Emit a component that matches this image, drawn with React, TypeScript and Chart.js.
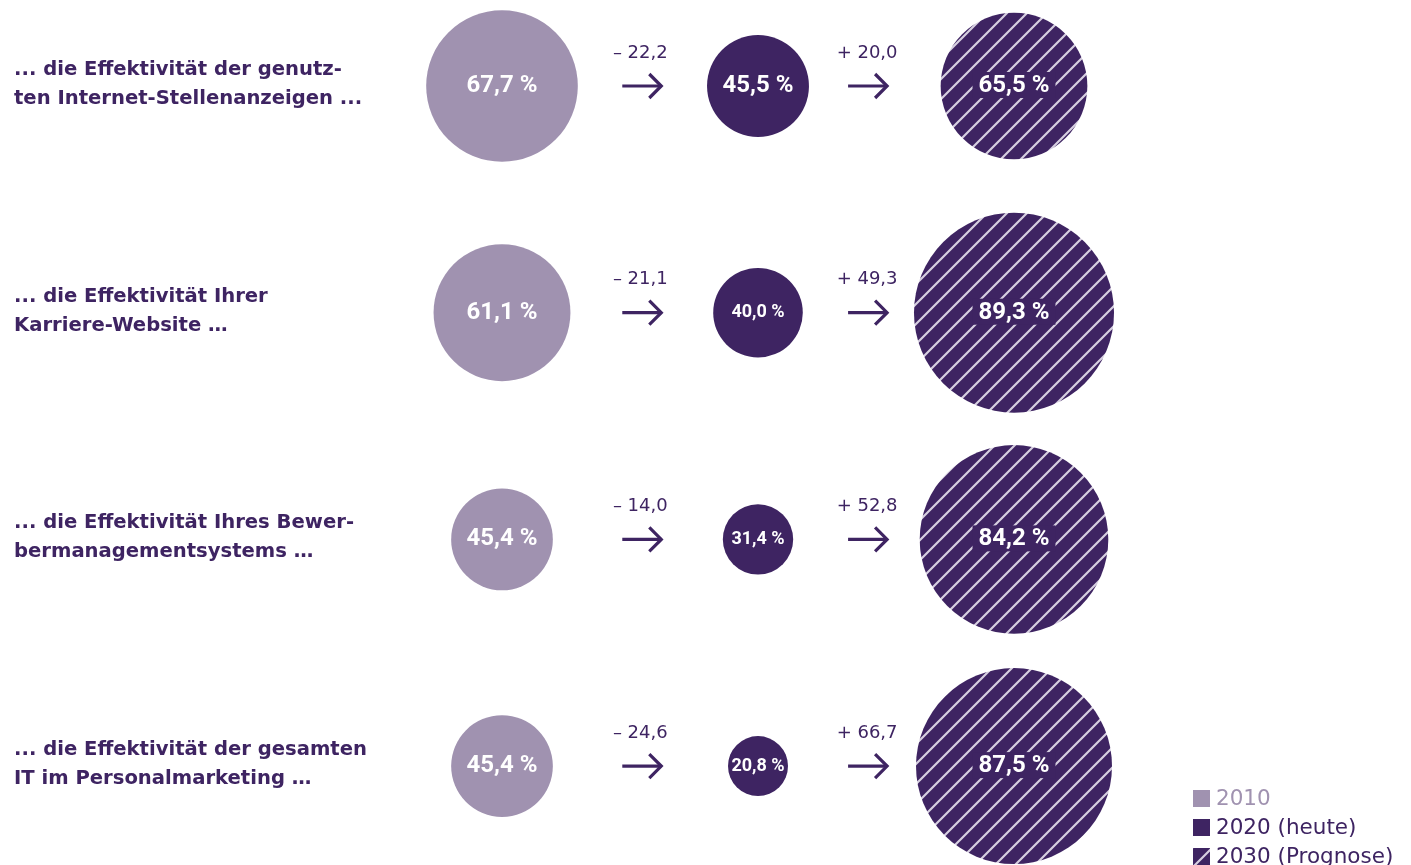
import React, { useEffect, useRef } from "react";
import { Chart, registerables } from "chart.js";

Chart.register(...registerables);

const categories: string[][] = [
  ["... die Effektivität der genutz-", "ten Internet-Stellenanzeigen ..."],
  ["... die Effektivität Ihrer", "Karriere-Website …"],
  ["... die Effektivität Ihres Bewer-", "bermanagementsystems …"],
  ["... die Effektivität der gesamten", "IT im Personalmarketing …"],
];
const values2010 = [67.7, 61.1, 45.4, 45.4];
const values2020 = [45.5, 40.0, 31.4, 20.8];
const values2030 = [65.5, 89.3, 84.2, 87.5];
const change2010to2020 = [-22.2, -21.1, -14.0, -24.6];
const change2020to2030 = [20.0, 49.3, 52.8, 66.7];
const seriesNames = ["2010", "2020 (heute)", "2030 (Prognose)"];

const LIGHT = "#a092b0";
const DARK = "#3e2462";
const STRIPE = "#d6cfe0";
const PX_PER_PCT = 1.12;
const MIN_R = 30;

const fmt = (v: number) => v.toFixed(1).replace(".", ",");
const radius = (v: number) => Math.max(MIN_R, v * PX_PER_PCT);

function makeHatch(): CanvasPattern | string {
  const c = document.createElement("canvas");
  const s = 20;
  c.width = s;
  c.height = s;
  const g = c.getContext("2d");
  if (!g) return DARK;
  g.fillStyle = DARK;
  g.fillRect(0, 0, s, s);
  g.strokeStyle = STRIPE;
  g.lineWidth = 2.2;
  g.beginPath();
  for (const o of [-s, 0, s]) {
    g.moveTo(o - 2, s + 2);
    g.lineTo(o + s + 2, -2);
  }
  g.stroke();
  const p = g.createPattern(c, "repeat");
  return p || DARK;
}

export default function App() {
  const ref = useRef<HTMLCanvasElement | null>(null);

  useEffect(() => {
    if (!ref.current) return;
    const hatch = makeHatch();
    const mk = (vals: number[], col: number) =>
      vals.map((v, i) => ({ x: col, y: i, r: radius(v), v }));

    const overlay = {
      id: "overlay",
      afterDatasetsDraw(chart: any) {
        const ctx = chart.ctx as CanvasRenderingContext2D;
        const xs = chart.scales.x;
        const ys = chart.scales.y;
        ctx.save();
        // left labels
        ctx.fillStyle = DARK;
        ctx.textAlign = "left";
        ctx.textBaseline = "middle";
        ctx.font = "bold 19.6px 'DejaVu Sans', sans-serif";
        categories.forEach((lines, i) => {
          const cy = ys.getPixelForValue(i);
          lines.forEach((t, k) => {
            ctx.fillText(t, 14, cy - 16 + k * 29);
          });
        });
        // arrows and changes
        const drawArrow = (cx: number, cy: number) => {
          ctx.strokeStyle = DARK;
          ctx.lineWidth = 3.2;
          ctx.lineCap = "butt";
          ctx.beginPath();
          ctx.moveTo(cx - 20, cy);
          ctx.lineTo(cx + 19, cy);
          ctx.stroke();
          ctx.beginPath();
          ctx.moveTo(cx + 7, cy - 12);
          ctx.lineTo(cx + 19, cy);
          ctx.lineTo(cx + 7, cy + 12);
          ctx.stroke();
        };
        ctx.font = "18px 'DejaVu Sans', sans-serif";
        ctx.textAlign = "center";
        categories.forEach((_, i) => {
          const cy = ys.getPixelForValue(i);
          const a1 = xs.getPixelForValue(0.548);
          const a2 = xs.getPixelForValue(1.43);
          drawArrow(a1, cy);
          drawArrow(a2, cy);
          ctx.fillStyle = DARK;
          const d1 = change2010to2020[i];
          const d2 = change2020to2030[i];
          ctx.fillText((d1 < 0 ? "\u2013 " : "+ ") + fmt(Math.abs(d1)), a1 - 2, cy - 33);
          ctx.fillText((d2 < 0 ? "\u2013 " : "+ ") + fmt(Math.abs(d2)), a2 - 1, cy - 33);
        });
        // circle labels
        chart.data.datasets.forEach((ds: any, di: number) => {
          const meta = chart.getDatasetMeta(di);
          meta.data.forEach((el: any, i: number) => {
            const raw = ds.data[i];
            const size = raw.r >= 45 ? 24 : 18;
            ctx.font = `bold ${size}px Roboto, 'Liberation Sans', sans-serif`;
            const txt = fmt(raw.v) + " %";
            if (di === 2) {
              const w = ctx.measureText(txt).width;
              ctx.fillStyle = DARK;
              ctx.fillRect(el.x - w / 2 - 6, el.y - 14, w + 12, 26);
            }
            ctx.fillStyle = "#ffffff";
            ctx.textAlign = "center";
            ctx.textBaseline = "middle";
            ctx.fillText(txt, el.x, el.y);
          });
        });
        // legend
        const lx = 1193;
        const ly = [798, 827, 856];
        const fills: (string | CanvasPattern)[] = [LIGHT, DARK, hatch];
        ctx.font = "21.5px 'DejaVu Sans', sans-serif";
        ctx.textAlign = "left";
        ctx.textBaseline = "middle";
        seriesNames.forEach((n, k) => {
          ctx.fillStyle = fills[k] as any;
          ctx.fillRect(lx, ly[k] - 8, 17, 17);
          ctx.fillStyle = k === 0 ? LIGHT : DARK;
          ctx.fillText(n, lx + 23, ly[k] + 1);
        });
        ctx.restore();
      },
    };

    const chart = new Chart(ref.current, {
      type: "bubble",
      data: {
        datasets: [
          { label: seriesNames[0], data: mk(values2010, 0) as any, backgroundColor: LIGHT, borderWidth: 0, clip: false as any },
          { label: seriesNames[1], data: mk(values2020, 1) as any, backgroundColor: DARK, borderWidth: 0, clip: false as any },
          { label: seriesNames[2], data: mk(values2030, 2) as any, backgroundColor: hatch as any, borderWidth: 0, clip: false as any },
        ],
      },
      options: {
        animation: false,
        responsive: false,
        maintainAspectRatio: false,
        layout: { padding: 0, autoPadding: false } as any,
        plugins: { legend: { display: false }, tooltip: { enabled: false } },
        scales: {
          x: { type: "linear", display: false, min: -502 / 256, max: (1411 - 502) / 256 },
          y: { type: "linear", display: false, reverse: true, min: -86 / 226.7, max: (865 - 86) / 226.7 },
        },
      },
      plugins: [overlay],
    });
    return () => chart.destroy();
  }, []);

  return (
    <div style={{ position: "fixed", left: 0, top: 0, width: 1411, height: 865, background: "#fff" }}>
      <canvas ref={ref} width={1411} height={865} style={{ width: 1411, height: 865, display: "block" }} />
    </div>
  );
}
